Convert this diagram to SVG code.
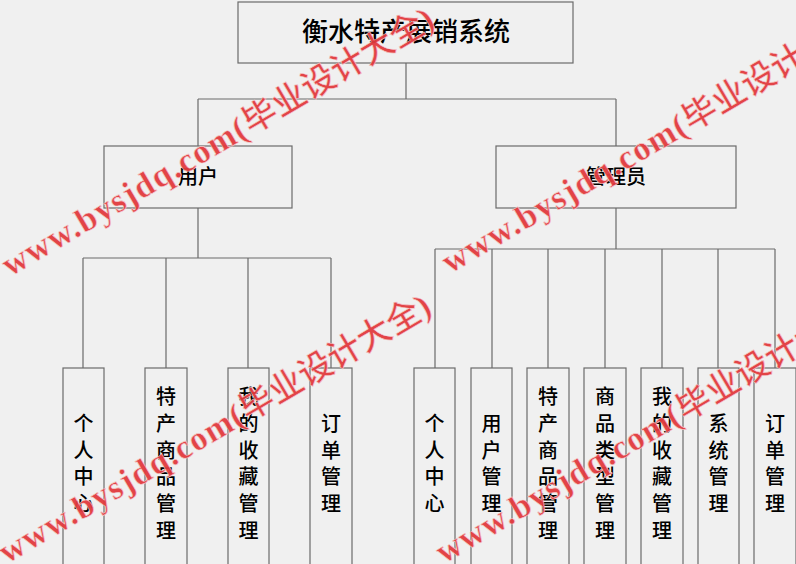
<svg xmlns="http://www.w3.org/2000/svg" width="796" height="564" viewBox="0 0 796 564">
<style>
.bg{fill:#f0f0f0}
.box{fill:#f0f0f0;stroke:#6b6b6b;stroke-width:1.2}
.ln{fill:none;stroke:#6b6b6b;stroke-width:1.2}
.t{font-family:"Liberation Sans","Noto Sans CJK SC",sans-serif;fill:#000;text-anchor:middle;dominant-baseline:central;font-weight:500}
.title{font-size:26px}
.mid{font-size:20px}
.leaf{font-size:20px}
.wm{font-family:"Liberation Serif","Noto Sans CJK SC",serif;font-size:34px;fill:#e23b3f;stroke:#f6c9ca;stroke-width:0.6;opacity:0.95}
.wm .lat{font-weight:bold;letter-spacing:1.4px}
.wm .cjk{font-family:"Noto Sans CJK SC",sans-serif;font-weight:500;letter-spacing:0}
</style>
<rect class="bg" x="0" y="0" width="796" height="564"/>
<g id="connectors">
<path class="ln" d="M406,63V99M198,99H616M198,99V146M616,99V146"/>
<path class="ln" d="M198,208V258M83,258H331M83,258V368M166,258V368M248,258V368M331,258V368"/>
<path class="ln" d="M616,208V249M435,249H775M435,249V368M492,249V368M548,249V368M605,249V368M662,249V368M718,249V368M775,249V368"/>
</g>
<g id="root"><rect class="box" x="238" y="2" width="335" height="61"/><text class="t title" x="406" y="32">衡水特产展销系统</text></g>
<g id="user"><rect class="box" x="104" y="146" width="188" height="62"/><text class="t mid" x="198" y="177">用户</text></g>
<g id="admin"><rect class="box" x="496" y="146" width="240" height="62"/><text class="t mid" x="616" y="177">管理员</text></g>
<g id="u1"><rect class="box" x="63" y="368" width="41" height="240"/><text class="t leaf"><tspan x="83.5" y="424">个</tspan><tspan x="83.5" y="450.7">人</tspan><tspan x="83.5" y="477.3">中</tspan><tspan x="83.5" y="504">心</tspan></text></g>
<g id="u2"><rect class="box" x="145" y="368" width="42" height="240"/><text class="t leaf"><tspan x="166" y="397.3">特</tspan><tspan x="166" y="424">产</tspan><tspan x="166" y="450.7">商</tspan><tspan x="166" y="477.3">品</tspan><tspan x="166" y="504">管</tspan><tspan x="166" y="530.7">理</tspan></text></g>
<g id="u3"><rect class="box" x="228" y="368" width="41" height="240"/><text class="t leaf"><tspan x="248.5" y="397.3">我</tspan><tspan x="248.5" y="424">的</tspan><tspan x="248.5" y="450.7">收</tspan><tspan x="248.5" y="477.3">藏</tspan><tspan x="248.5" y="504">管</tspan><tspan x="248.5" y="530.7">理</tspan></text></g>
<g id="u4"><rect class="box" x="310" y="368" width="42" height="240"/><text class="t leaf"><tspan x="331" y="424">订</tspan><tspan x="331" y="450.7">单</tspan><tspan x="331" y="477.3">管</tspan><tspan x="331" y="504">理</tspan></text></g>
<g id="a1"><rect class="box" x="414" y="368" width="41" height="240"/><text class="t leaf"><tspan x="434.5" y="424">个</tspan><tspan x="434.5" y="450.7">人</tspan><tspan x="434.5" y="477.3">中</tspan><tspan x="434.5" y="504">心</tspan></text></g>
<g id="a2"><rect class="box" x="471" y="368" width="41" height="240"/><text class="t leaf"><tspan x="491.5" y="424">用</tspan><tspan x="491.5" y="450.7">户</tspan><tspan x="491.5" y="477.3">管</tspan><tspan x="491.5" y="504">理</tspan></text></g>
<g id="a3"><rect class="box" x="527" y="368" width="42" height="240"/><text class="t leaf"><tspan x="548" y="397.3">特</tspan><tspan x="548" y="424">产</tspan><tspan x="548" y="450.7">商</tspan><tspan x="548" y="477.3">品</tspan><tspan x="548" y="504">管</tspan><tspan x="548" y="530.7">理</tspan></text></g>
<g id="a4"><rect class="box" x="584" y="368" width="42" height="240"/><text class="t leaf"><tspan x="605" y="397.3">商</tspan><tspan x="605" y="424">品</tspan><tspan x="605" y="450.7">类</tspan><tspan x="605" y="477.3">型</tspan><tspan x="605" y="504">管</tspan><tspan x="605" y="530.7">理</tspan></text></g>
<g id="a5"><rect class="box" x="641" y="368" width="42" height="240"/><text class="t leaf"><tspan x="662" y="397.3">我</tspan><tspan x="662" y="424">的</tspan><tspan x="662" y="450.7">收</tspan><tspan x="662" y="477.3">藏</tspan><tspan x="662" y="504">管</tspan><tspan x="662" y="530.7">理</tspan></text></g>
<g id="a6"><rect class="box" x="698" y="368" width="41" height="240"/><text class="t leaf"><tspan x="718.5" y="424">系</tspan><tspan x="718.5" y="450.7">统</tspan><tspan x="718.5" y="477.3">管</tspan><tspan x="718.5" y="504">理</tspan></text></g>
<g id="a7"><rect class="box" x="754" y="368" width="42" height="240"/><text class="t leaf"><tspan x="775" y="424">订</tspan><tspan x="775" y="450.7">单</tspan><tspan x="775" y="477.3">管</tspan><tspan x="775" y="504">理</tspan></text></g>
<g id="watermarks">
<text class="wm" transform="translate(10,277) rotate(-30.5)"><tspan class="lat">www.bysjdq.com(</tspan><tspan class="cjk">毕业设计大全</tspan><tspan class="lat">)</tspan></text>
<text class="wm" transform="translate(450,274) rotate(-30.5)"><tspan class="lat">www.bysjdq.com(</tspan><tspan class="cjk">毕业设计大全</tspan><tspan class="lat">)</tspan></text>
<text class="wm" transform="translate(7,564) rotate(-30.5)"><tspan class="lat">www.bysjdq.com(</tspan><tspan class="cjk">毕业设计大全</tspan><tspan class="lat">)</tspan></text>
<text class="wm" transform="translate(444,564) rotate(-30.5)"><tspan class="lat">www.bysjdq.com(</tspan><tspan class="cjk">毕业设计大全</tspan><tspan class="lat">)</tspan></text>
</g>
</svg>
